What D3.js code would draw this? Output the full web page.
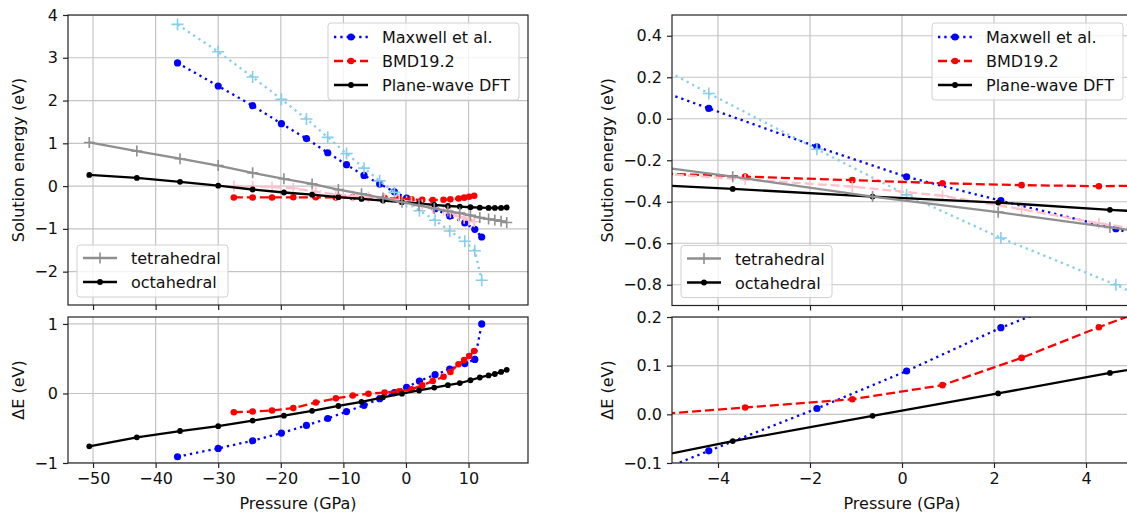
<!DOCTYPE html>
<html>
<head>
<meta charset="utf-8">
<script src="https://cdn.jsdelivr.net/npm/d3@7"></script>
<style>
  html, body { margin: 0; padding: 0; background: #fff; }
  svg { display: block; font-family: "DejaVu Sans", sans-serif; }
</style>
</head>
<body>
<svg id="chart" width="1127" height="515"></svg>
<script>
// ---------------- DATA ----------------
// Maxwell et al.
const maxP   = [-36.5, -30.0, -24.5, -19.9, -15.9, -12.5, -9.5, -6.7, -4.2, -1.85, 0.1, 2.15, 4.65, 7.0, 9.4, 11.0, 12.1];
const maxOct = [2.88, 2.34, 1.88, 1.46, 1.11, 0.78, 0.50, 0.25, 0.05, -0.135, -0.28, -0.395, -0.53, -0.70, -0.86, -1.01, -1.19];
const maxTet = [3.78, 3.14, 2.55, 2.03, 1.57, 1.14, 0.76, 0.42, 0.122, -0.147, -0.367, -0.575, -0.80, -1.05, -1.29, -1.51, -2.20];
const maxDE  = [-0.91, -0.79, -0.68, -0.57, -0.46, -0.36, -0.26, -0.17, -0.075, 0.012, 0.089, 0.178, 0.27, 0.35, 0.43, 0.49, 1.00];
// BMD19.2
const bmdP   = [-27.5, -24.5, -21.4, -18.0, -14.4, -11.2, -8.5, -6.0, -3.41, -1.08, 0.88, 2.6, 4.28, 6.0, 7.1, 8.4, 9.3, 10.1, 10.9];
const bmdOct = [-0.265, -0.265, -0.265, -0.262, -0.262, -0.265, -0.26, -0.258, -0.279, -0.296, -0.311, -0.320, -0.325, -0.32, -0.31, -0.29, -0.27, -0.25, -0.225];
const bmdTet = [0.005, -0.005, -0.02, -0.05, -0.13, -0.195, -0.23, -0.253, -0.293, -0.327, -0.371, -0.436, -0.504, -0.56, -0.62, -0.71, -0.75, -0.79, -0.835];
const bmdDE  = [-0.27, -0.26, -0.245, -0.21, -0.13, -0.07, -0.03, -0.005, 0.014, 0.031, 0.060, 0.116, 0.179, 0.24, 0.31, 0.42, 0.48, 0.54, 0.61];
// Plane-wave DFT
const dftP   = [-50.6, -43.0, -36.1, -30.0, -24.5, -19.5, -15.0, -10.8, -7.1, -3.68, -0.64, 2.09, 4.52, 6.7, 8.6, 10.3, 11.8, 13.2, 14.2, 15.2, 16.1];
const dftOct = [0.26, 0.19, 0.10, 0.01, -0.08, -0.15, -0.20, -0.26, -0.30, -0.338, -0.375, -0.404, -0.439, -0.465, -0.48, -0.495, -0.505, -0.51, -0.51, -0.51, -0.50];
const dftTet = [1.02, 0.82, 0.64, 0.48, 0.31, 0.17, 0.05, -0.08, -0.18, -0.279, -0.375, -0.45, -0.524, -0.585, -0.63, -0.685, -0.735, -0.77, -0.79, -0.82, -0.85];
const dftDE  = [-0.76, -0.63, -0.54, -0.47, -0.39, -0.32, -0.25, -0.18, -0.12, -0.055, -0.003, 0.043, 0.085, 0.12, 0.15, 0.19, 0.23, 0.26, 0.28, 0.31, 0.34];

// Tick values
const leftXTicks   = [-50, -40, -30, -20, -10, 0, 10];
const leftTopTicks = [-2, -1, 0, 1, 2, 3, 4];
const leftBotTicks = [-1, 0, 1];
const rightXTicks   = [-4, -2, 0, 2, 4];
const rightTopTicks = [-0.8, -0.6, -0.4, -0.2, 0.0, 0.2, 0.4];
const rightBotTicks = [-0.1, 0.0, 0.1, 0.2];

// Labels
const methodLabels = ["Maxwell et al.", "BMD19.2", "Plane-wave DFT"];
const siteLabels = ["tetrahedral", "octahedral"];
const xLabel = "Pressure (GPa)";
const yTopLabel = "Solution energy (eV)";
const yBotLabel = "\u0394E (eV)";

// ---------------- STYLE ----------------
const FONT = 16;
const C = { blue: "#0000ff", lblue: "#87ceeb", red: "#ff0000", pink: "#ffc0cb", black: "#000000", gray: "#8f8f8f" };
const LW = 2.3;
const DOT = "2.3,4";
const DASH = "9,4";

const svg = d3.select("#chart");

const panels = [
  { xr: [68, 528], xd: [-54, 19.5], xt: leftXTicks, xf: d3.format("d"),
    top: { yr: [305, 15], yd: [-2.78, 4.0], yt: leftTopTicks, yf: d3.format("d") },
    bot: { yr: [463, 317], yd: [-1, 1.1], yt: leftBotTicks, yf: d3.format("d") },
    ylabX: 18, id: "L" },
  { xr: [672, 1132], xd: [-5, 5], xt: rightXTicks, xf: d3.format("d"),
    top: { yr: [305.5, 15], yd: [-0.9, 0.5], yt: rightTopTicks, yf: d3.format(".1f") },
    bot: { yr: [463, 317], yd: [-0.1, 0.2], yt: rightBotTicks, yf: d3.format(".1f") },
    ylabX: 607, id: "R" }
];

const topSeries = [
  { P: maxP, v: maxOct, color: C.blue,  dash: DOT,  m: "o", r: 3.6 },
  { P: maxP, v: maxTet, color: C.lblue, dash: DOT,  m: "+", s: 6 },
  { P: bmdP, v: bmdOct, color: C.red,   dash: DASH, m: "o", r: 3.3 },
  { P: bmdP, v: bmdTet, color: C.pink,  dash: DASH, m: "+", s: 5.5 },
  { P: dftP, v: dftOct, color: C.black, dash: null, m: "o", r: 2.9 },
  { P: dftP, v: dftTet, color: C.gray,  dash: null, m: "+", s: 5.5 }
];
const botSeries = [
  { P: maxP, v: maxDE, color: C.blue,  dash: DOT,  m: "o", r: 3.6 },
  { P: bmdP, v: bmdDE, color: C.red,   dash: DASH, m: "o", r: 3.3 },
  { P: dftP, v: dftDE, color: C.black, dash: null, m: "o", r: 2.9 }
];

function drawMarker(g, m, cx, cy, color, r, s) {
  if (m === "o") {
    g.append("circle").attr("cx", cx).attr("cy", cy).attr("r", r).attr("fill", color);
  } else {
    g.append("path").attr("d", `M${cx - s},${cy}H${cx + s}M${cx},${cy - s}V${cy + s}`)
      .attr("stroke", color).attr("stroke-width", 1.6).attr("fill", "none");
  }
}

function drawAxes(p, sub, name, showXLabels) {
  const x = d3.scaleLinear().domain(p.xd).range(p.xr);
  const y = d3.scaleLinear().domain(sub.yd).range(sub.yr);
  const x0 = p.xr[0], x1 = p.xr[1], yb = sub.yr[0], yt = sub.yr[1];
  const clipId = "clip" + p.id + name;
  svg.append("clipPath").attr("id", clipId).append("rect")
    .attr("x", x0).attr("y", yt).attr("width", x1 - x0).attr("height", yb - yt);

  // grid
  const grid = svg.append("g").attr("clip-path", `url(#${clipId})`);
  p.xt.forEach(t => grid.append("line").attr("x1", x(t)).attr("x2", x(t)).attr("y1", yt).attr("y2", yb)
    .attr("stroke", "#c4c4c4").attr("stroke-width", 1.2));
  sub.yt.forEach(t => grid.append("line").attr("x1", x0).attr("x2", x1).attr("y1", y(t)).attr("y2", y(t))
    .attr("stroke", "#c4c4c4").attr("stroke-width", 1.2));

  // axes
  const ax = svg.append("g").attr("transform", `translate(0,${yb})`)
    .call(d3.axisBottom(x).tickValues(p.xt).tickFormat(showXLabels ? p.xf : () => "").tickSize(5).tickPadding(5));
  const ay = svg.append("g").attr("transform", `translate(${x0},0)`)
    .call(d3.axisLeft(y).tickValues(sub.yt).tickFormat(sub.yf).tickSize(5).tickPadding(5));
  [ax, ay].forEach(a => {
    a.select(".domain").remove();
    a.selectAll("line").attr("stroke", "#222").attr("stroke-width", 1.2);
    a.selectAll("text").attr("font-size", FONT).attr("fill", "#111").attr("font-family", "DejaVu Sans");
  });
  return { x, y, clipId, x0, x1, yb, yt };
}

function drawFrame(a) {
  svg.append("rect").attr("x", a.x0).attr("y", a.yt).attr("width", a.x1 - a.x0).attr("height", a.yb - a.yt)
    .attr("fill", "none").attr("stroke", "#222").attr("stroke-width", 1.2);
}

function drawSeries(a, list) {
  const g = svg.append("g").attr("clip-path", `url(#${a.clipId})`);
  list.forEach(s => {
    const pts = d3.zip(s.P, s.v);
    const line = d3.line().x(d => a.x(d[0])).y(d => a.y(d[1]));
    g.append("path").datum(pts).attr("d", line).attr("fill", "none")
      .attr("stroke", s.color).attr("stroke-width", LW)
      .attr("stroke-dasharray", s.dash || null);
    pts.forEach(d => drawMarker(g, s.m, a.x(d[0]), a.y(d[1]), s.color, s.r, s.s));
  });
}

function legendBox(x, y, w, h) {
  svg.append("rect").attr("x", x).attr("y", y).attr("width", w).attr("height", h).attr("rx", 3)
    .attr("fill", "#fff").attr("fill-opacity", 0.8).attr("stroke", "#d0d0d0").attr("stroke-width", 1);
}
function legendEntry(hx, cy, color, dash, m, r, s, label) {
  const g = svg.append("g");
  g.append("line").attr("x1", hx).attr("x2", hx + 34).attr("y1", cy).attr("y2", cy)
    .attr("stroke", color).attr("stroke-width", LW).attr("stroke-dasharray", dash || null);
  drawMarker(g, m, hx + 17, cy, color, r, s);
  g.append("text").attr("x", hx + 48).attr("y", cy + 6).attr("font-size", FONT).attr("fill", "#111").text(label);
}

panels.forEach(p => {
  const aT = drawAxes(p, p.top, "T", false);
  drawSeries(aT, topSeries);
  drawFrame(aT);
  const aB = drawAxes(p, p.bot, "B", true);
  drawSeries(aB, botSeries);
  drawFrame(aB);

  // legends
  const l1x = aT.x1 - 9 - 191, l1y = aT.yt + 8;
  legendBox(l1x, l1y, 191, 77);
  legendEntry(l1x + 6, l1y + 14, C.blue, DOT, "o", 3.6, 0, methodLabels[0]);
  legendEntry(l1x + 6, l1y + 38, C.red, DASH, "o", 3.3, 0, methodLabels[1]);
  legendEntry(l1x + 6, l1y + 62, C.black, null, "o", 2.9, 0, methodLabels[2]);

  const l2x = aT.x0 + 9, l2y = aT.yb - 8 - 52;
  legendBox(l2x, l2y, 151, 52);
  legendEntry(l2x + 6, l2y + 13, C.gray, null, "+", 0, 5.5, siteLabels[0]);
  legendEntry(l2x + 6, l2y + 37, C.black, null, "o", 2.9, 0, siteLabels[1]);

  // axis labels
  const cxm = (p.xr[0] + p.xr[1]) / 2;
  svg.append("text").attr("x", cxm).attr("y", 509).attr("text-anchor", "middle")
    .attr("font-size", FONT).attr("fill", "#111").text(xLabel);
  svg.append("text").attr("transform", `translate(${p.ylabX + 6},${(aT.yt + aT.yb) / 2}) rotate(-90)`)
    .attr("text-anchor", "middle").attr("font-size", FONT).attr("fill", "#111").text(yTopLabel);
  svg.append("text").attr("transform", `translate(${p.ylabX + 6},${(aB.yt + aB.yb) / 2}) rotate(-90)`)
    .attr("text-anchor", "middle").attr("font-size", FONT).attr("fill", "#111").text(yBotLabel);
});
</script>
</body>
</html>
